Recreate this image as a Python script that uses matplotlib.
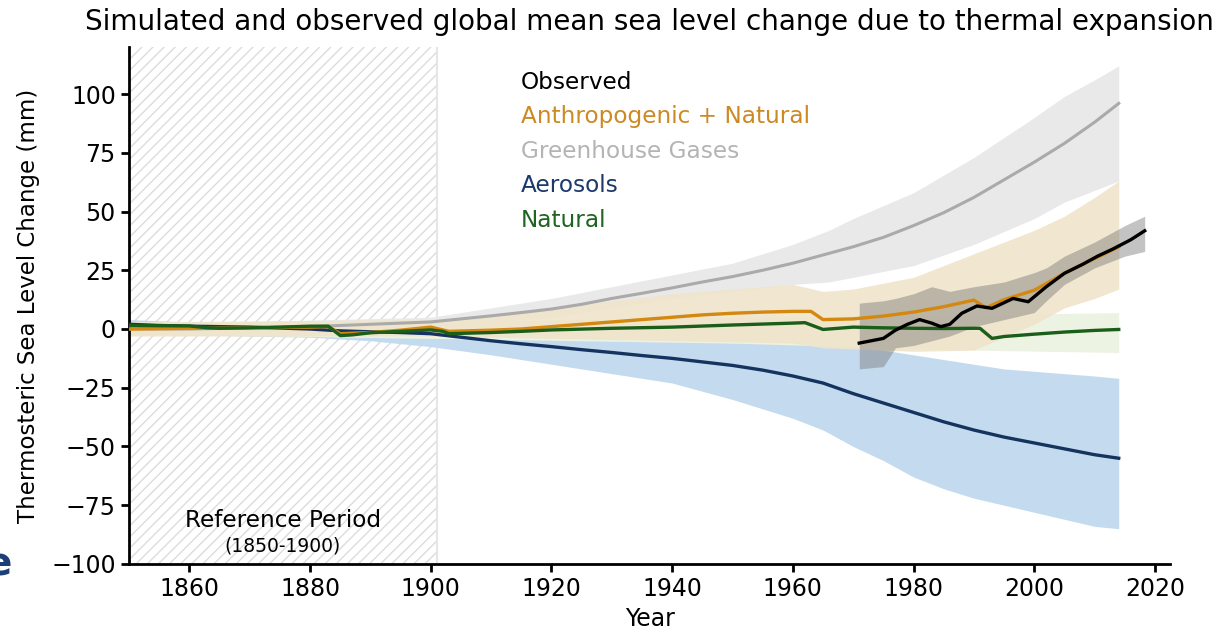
import numpy as np
import matplotlib.pyplot as plt

# ---- data ----
ghg_years = [1850, 1860, 1870, 1880, 1885, 1890, 1895, 1900, 1905, 1910, 1915, 1920, 1925, 1930, 1935,
             1940, 1945, 1950, 1955, 1960, 1965, 1970, 1975, 1980, 1985, 1990, 1995, 2000, 2005, 2010, 2014]
ghg = [0, 0, 0.5, 1, 1.5, 2, 2.5, 3, 4.3, 5.6, 7, 8.5, 10.5, 13, 15.2,
       17.5, 20, 22.3, 25, 28, 31.5, 35, 39, 44, 49.5, 56, 63.5, 71, 79, 88, 96]
ghg_band_years = [1850, 1900, 1910, 1920, 1930, 1940, 1950, 1960, 1966, 1970, 1980, 1990, 2000, 2005, 2010, 2014]
ghg_hi = [2, 5, 9, 13, 18, 23, 28, 36, 42, 47, 58, 73, 90, 99, 106, 112]
ghg_lo = [-2, 1, 3, 5, 9, 13, 16, 19, 20, 22, 27, 36, 47, 54, 59, 63]

an_years = [1850, 1860, 1870, 1880, 1883, 1885, 1890, 1895, 1900, 1903, 1910, 1915, 1920, 1925, 1930,
            1935, 1940, 1945, 1950, 1955, 1960, 1963, 1965, 1970, 1975, 1980, 1985, 1990, 1992,
            1995, 2000, 2005, 2010, 2014]
an = [0, 0.3, 0.5, 0.8, 1, -2, -1.5, -0.5, 0.8, -1, -0.5, 0, 1, 2, 3,
      4, 5, 6, 6.7, 7.2, 7.5, 7.5, 4, 4.3, 5.5, 7.2, 9.5, 12.3, 9, 12.5, 16.5, 23.7, 30, 35]
an_band_years = [1850, 1900, 1910, 1920, 1930, 1940, 1950, 1960, 1965, 1970, 1980, 1990, 2000, 2005, 2010, 2014]
an_hi = [3, 4, 6, 9, 12, 15, 17, 19, 16, 17, 22, 32, 42, 48, 56, 63]
an_lo = [-3, -3, -3.5, -4, -4.5, -5, -5.5, -6, -8, -8.5, -9.5, -9, 2, 9, 13, 17]

aer_years = [1850, 1855, 1860, 1870, 1880, 1885, 1890, 1895, 1900, 1905, 1910, 1915, 1920, 1925, 1930,
             1935, 1940, 1945, 1950, 1955, 1960, 1965, 1970, 1975, 1980, 1985, 1990, 1995, 2000, 2005,
             2010, 2014]
aer = [2, 1.5, 1.2, 0.8, 0, -0.8, -1.2, -1.5, -2, -3.5, -5, -6.3, -7.5, -8.8, -10,
       -11.3, -12.5, -14, -15.5, -17.5, -20, -23, -27.5, -31.5, -35.5, -39.5, -43, -46, -48.5, -51,
       -53.5, -55]
aer_band_years = [1850, 1860, 1870, 1880, 1890, 1900, 1910, 1920, 1930, 1940, 1950, 1960, 1965, 1970,
                  1975, 1980, 1985, 1990, 1995, 2000, 2005, 2010, 2014]
aer_hi = [4, 3, 3, 2, 1, 1, -1, -2, -3, -4, -4.5, -5, -6, -7, -9, -11, -13, -15, -17, -18, -19, -20, -21]
aer_lo = [-2, -2.5, -3, -3.5, -5, -7.5, -11, -15, -19, -23, -30, -38, -43, -50, -56, -63, -68, -72,
          -75, -78, -81, -84, -85]

nat_years = [1850, 1860, 1863, 1865, 1870, 1875, 1880, 1883, 1885, 1887, 1890, 1895, 1900, 1902, 1903,
             1910, 1915, 1920, 1930, 1940, 1950, 1960, 1962, 1965, 1970, 1975, 1980, 1985, 1990, 1991,
             1993, 1995, 2000, 2005, 2010, 2014]
nat = [1.5, 1.3, 0.5, 0.3, 0.5, 0.8, 1.2, 1.2, -2.8, -2.5, -1.6, -1, -0.4, -1, -2,
       -1.5, -1, -0.4, 0.3, 0.8, 1.7, 2.5, 2.7, -0.2, 0.8, 0.5, 0.3, 0.2, 0.3, 0.3,
       -4, -3.2, -2.2, -1.3, -0.6, -0.2]
nat_band_years = [1850, 1900, 1950, 1990, 2014]
nat_hi = [3, 3, 5, 6, 7]
nat_lo = [-2, -4, -6, -9, -10]

obs_years = [1971, 1973, 1975, 1977, 1979, 1981, 1983, 1984.5, 1986, 1988, 1990.5, 1993, 1996.5, 1999,
             2002, 2005, 2008, 2010.5, 2013, 2016, 2018.3]
obs = [-6, -5, -4, -0.5, 2, 4, 2.5, 1, 2, 6.7, 9.8, 8.8, 13, 11.6, 18, 23.7, 27.5, 31, 34, 38, 41.8]
obs_band_years = [1971, 1975, 1977, 1980, 1983, 1986, 1990, 1995, 2000, 2002, 2005, 2010, 2015, 2018.3]
obs_hi = [11, 12, 13, 15, 18, 16, 18, 20, 24, 26, 31, 37, 44, 48]
obs_lo = [-17, -16, -8, -7, -5, -3, 1, 4, 7, 12, 19, 26, 31, 33]

legend_labels = ['Observed', 'Anthropogenic + Natural', 'Greenhouse Gases', 'Aerosols', 'Natural']
legend_colors = ['black', '#cc8a24', '#b4b4b4', '#1b3a6b', '#1f6420']

# ---- figure ----
fig = plt.figure(figsize=(12.23, 6.31), dpi=100)
ax = fig.add_axes([0.1055, 0.1062, 0.8512, 0.8193])

# reference period hatch
ax.axvspan(1850, 1901, facecolor='none', edgecolor='#dcdcdc', hatch='///', linewidth=0, zorder=0)
ax.axvline(1901, color='#e6e6e6', lw=1.5, zorder=0)

# uncertainty bands
ax.fill_between(aer_band_years, aer_lo, aer_hi, color='#c4dbef', lw=0, zorder=1)
ax.fill_between(ghg_band_years, ghg_lo, ghg_hi, color='#e9e9ea', lw=0, zorder=1)
ax.fill_between(nat_band_years, nat_lo, nat_hi, color='#edf3e2', lw=0, zorder=1.1)
ax.fill_between(an_band_years, an_lo, an_hi, color='#f0e4ca', lw=0, alpha=0.9, zorder=1.2)
ax.fill_between(obs_band_years, obs_lo, obs_hi, color='#7a7a7a', lw=0, alpha=0.45, zorder=1.3)

# central lines
ax.plot(ghg_years, ghg, color='#aaaaaa', lw=2.2, zorder=3)
ax.plot(aer_years, aer, color='#15335f', lw=2.4, zorder=3)
ax.plot(an_years, an, color='#d4880f', lw=2.4, zorder=3)
ax.plot(nat_years, nat, color='#1a5e1a', lw=2.4, zorder=3)
ax.plot(obs_years, obs, color='black', lw=2.4, zorder=4)

# text legend
for i, (lab, col) in enumerate(zip(legend_labels, legend_colors)):
    ax.text(1914.9, 105 - i * 14.7, lab, color=col, fontsize=16.7, va='center', ha='left')

ax.text(1875.5, -81.5, 'Reference Period', fontsize=16.7, ha='center', va='center')
ax.text(1875.5, -92.3, '(1850-1900)', fontsize=13.5, ha='center', va='center')

ax.set_xlim(1850, 2022.5)
ax.set_ylim(-100, 120)
ax.set_xticks([1860, 1880, 1900, 1920, 1940, 1960, 1980, 2000, 2020])
ax.set_yticks([-100, -75, -50, -25, 0, 25, 50, 75, 100])
ax.tick_params(labelsize=17, width=2, length=6)
for s in ['top', 'right']:
    ax.spines[s].set_visible(False)
for s in ['left', 'bottom']:
    ax.spines[s].set_linewidth(2)

ax.set_xlabel('Year', fontsize=17, labelpad=4)
ax.set_ylabel('Thermosteric Sea Level Change (mm)', fontsize=16.5, labelpad=8)
ax.set_title('Simulated and observed global mean sea level change due to thermal expansion',
             fontsize=20, pad=12)

fig.text(-0.012, 0.105, 'e', fontsize=28, fontweight='bold', color='#1d3f78', va='center')

fig.savefig('out.png', dpi=100)
